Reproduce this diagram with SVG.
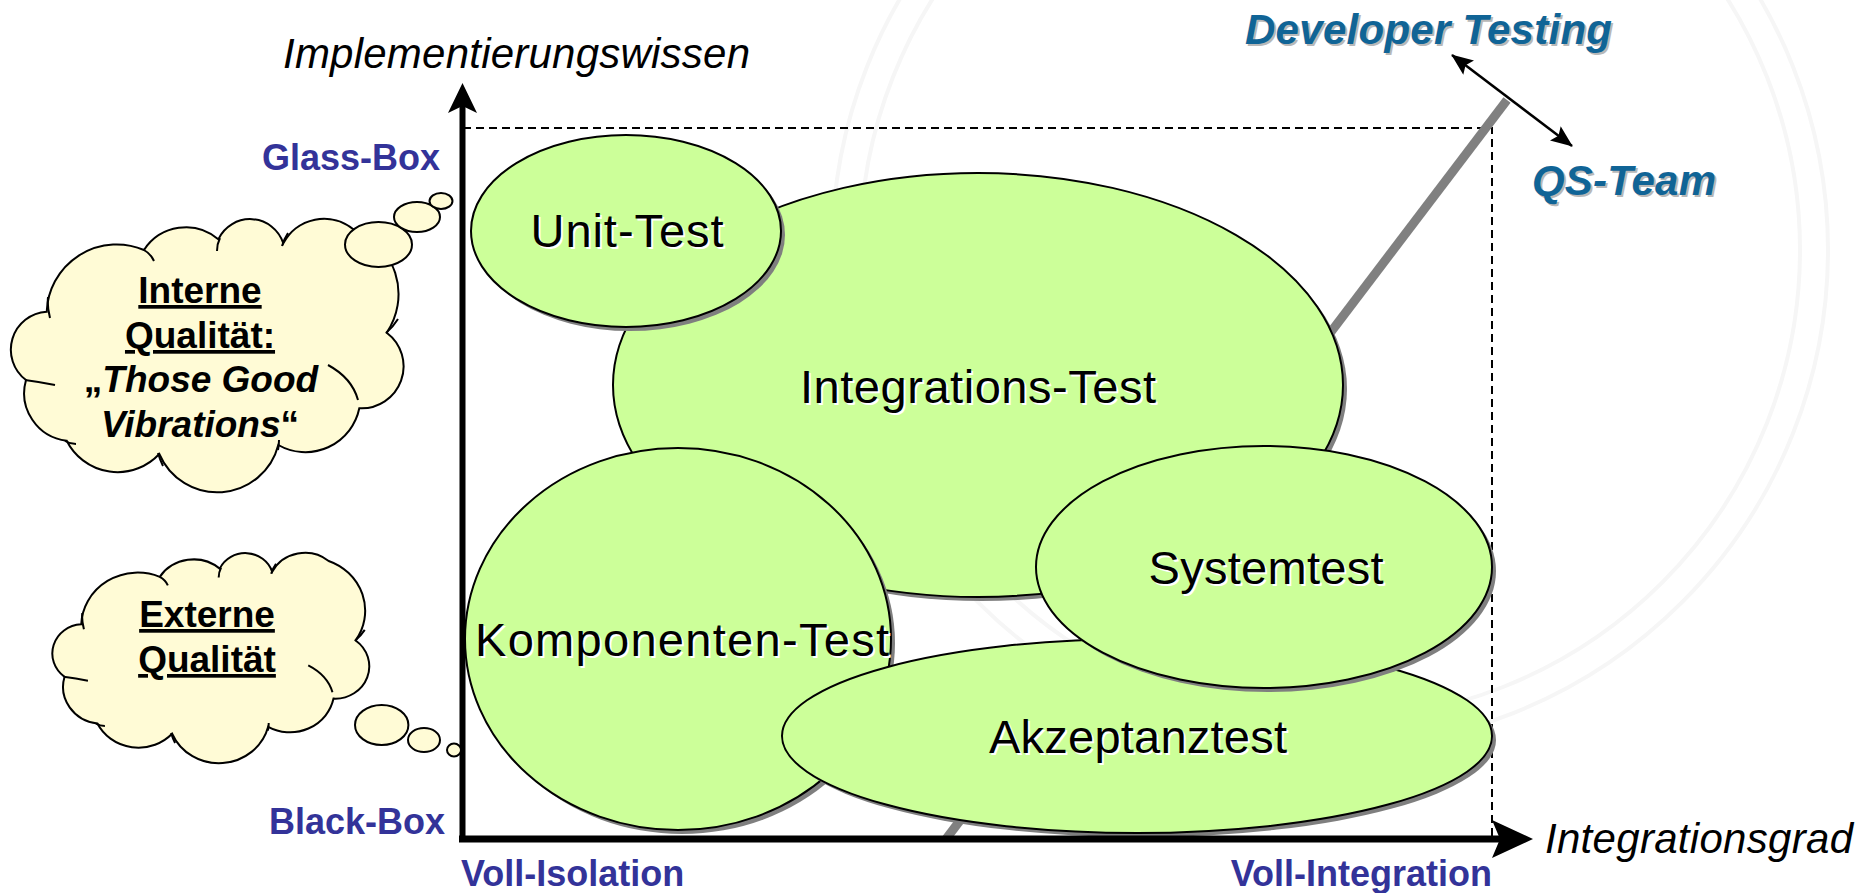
<svg xmlns="http://www.w3.org/2000/svg" width="1872" height="893" viewBox="0 0 1872 893">
<defs>
<style>
.el{fill:#ccff99;stroke:#000;stroke-width:2}
.sh{fill:#7f7f7f}
.cl{fill:#fffbd6;stroke:#000;stroke-width:2;vector-effect:non-scaling-stroke}
.frag{fill:none;stroke:#000;stroke-width:2;vector-effect:non-scaling-stroke}
.bub{fill:#fffbd6;stroke:#000;stroke-width:2}
.lbl{font-family:"Liberation Sans",Arial,sans-serif;font-size:47px;text-anchor:middle;fill:#000}
.lblsh{font-family:"Liberation Sans",Arial,sans-serif;font-size:47px;text-anchor:middle;fill:#fff}
.ax{font-family:"Liberation Sans",Arial,sans-serif;font-size:36px;font-weight:bold;fill:#333399}
.it{font-family:"Liberation Sans",Arial,sans-serif;font-size:42px;font-style:italic;fill:#000}
.team{font-family:"Liberation Sans",Arial,sans-serif;font-size:42px;font-weight:bold;font-style:italic;fill:#106496}
.teamsh{font-family:"Liberation Sans",Arial,sans-serif;font-size:42px;font-weight:bold;font-style:italic;fill:#b8b8b8}
.ct{font-family:"Liberation Sans",Arial,sans-serif;font-size:37px;font-weight:bold;text-anchor:middle;fill:#000}
.dash{stroke:#000;stroke-width:2;stroke-dasharray:8 5;fill:none}
</style>
<marker id="ah" markerUnits="userSpaceOnUse" markerWidth="22" markerHeight="18" viewBox="0 0 22 18" refX="21" refY="9" orient="auto-start-reverse">
<path d="M0 0 L22 9 L0 18 L4 9 Z" fill="#000"/>
</marker>
<g id="cloudbody">
<path class="cl" d="M 46.7 311.7 A 70 70 0 0 1 144 250 A 50 50 0 0 1 218.3 239.3 A 35 35 0 0 1 283.3 243.3 A 46 46 0 0 1 353.3 229.3 A 69 69 0 0 1 386.7 332.7 A 42 42 0 0 1 359.3 408.3 A 55 55 0 0 1 278.3 445 A 63 63 0 0 1 159.3 454 A 57 57 0 0 1 66.7 440.7 A 48 48 0 0 1 26 380 A 38 38 0 0 1 46.7 311.7 Z"/>
<path class="frag" d="M 50 318 Q 47 306 48 297 M 144 250 Q 151 254 154 261 M 217 251 Q 217 244 220 238 M 282 246 Q 284 239 288 233 M 386 333 Q 393 327 398 319 M 328 365 Q 352 378 358 400 M 279 440 Q 279 445 278 450 M 158 453 Q 160 460 163 466 M 65 441 Q 70 444 76 444 M 25 380 Q 40 382 55 385"/>
</g>
</defs>

<rect width="1872" height="893" fill="#ffffff"/>

<g id="watermark" fill="none" stroke="#f6f6f6" stroke-width="4">
<circle cx="1330" cy="250" r="470"/>
<circle cx="1330" cy="250" r="498"/>
</g>

<g id="guides">
<path class="dash" d="M 463 128 H 1492 V 839"/>
<line x1="1507" y1="100" x2="946" y2="839" stroke="#808080" stroke-width="9"/>
</g>

<g id="node-integrations">
<ellipse class="sh" cx="982" cy="389" rx="365" ry="212"/>
<ellipse class="el" cx="978" cy="385" rx="365" ry="212"/>
<text class="lblsh" x="980" y="405" textLength="356">Integrations-Test</text>
<text class="lbl" x="978" y="403" textLength="356">Integrations-Test</text>
</g>

<g id="node-unit">
<ellipse class="sh" cx="630" cy="235" rx="155" ry="96"/>
<ellipse class="el" cx="626" cy="231" rx="155" ry="96"/>
<text class="lblsh" x="629" y="249" textLength="193">Unit-Test</text>
<text class="lbl" x="627" y="247" textLength="193">Unit-Test</text>
</g>

<g id="node-komponenten">
<ellipse class="sh" cx="682" cy="643" rx="213" ry="191"/>
<ellipse class="el" cx="678" cy="639" rx="213" ry="191"/>
<text class="lblsh" x="684" y="658" textLength="414">Komponenten-Test</text>
<text class="lbl" x="682" y="656" textLength="414">Komponenten-Test</text>
</g>

<g id="node-akzeptanz">
<ellipse class="sh" cx="1141" cy="740" rx="355" ry="97"/>
<ellipse class="el" cx="1137" cy="736" rx="355" ry="97"/>
<text class="lblsh" x="1140" y="755" textLength="298">Akzeptanztest</text>
<text class="lbl" x="1138" y="753" textLength="298">Akzeptanztest</text>
</g>

<g id="node-system">
<ellipse class="sh" cx="1268" cy="571" rx="228" ry="121"/>
<ellipse class="el" cx="1264" cy="567" rx="228" ry="121"/>
<text class="lblsh" x="1268" y="586" textLength="235">Systemtest</text>
<text class="lbl" x="1266" y="584" textLength="235">Systemtest</text>
</g>

<g id="axes">
<line x1="462.5" y1="842" x2="462.5" y2="104" stroke="#000" stroke-width="6"/>
<polygon points="462.5,83 477,113 462.5,106 448,113" fill="#000"/>
<line x1="459" y1="839" x2="1502" y2="839" stroke="#000" stroke-width="7"/>
<polygon points="1533,839 1492,820 1500,839 1492,858" fill="#000"/>
<text class="it" x="283" y="68" textLength="467">Implementierungswissen</text>
<text class="it" x="1545" y="853" textLength="308">Integrationsgrad</text>
<text class="ax" x="440" y="170" text-anchor="end">Glass-Box</text>
<text class="ax" x="445" y="834" text-anchor="end">Black-Box</text>
<text class="ax" x="461" y="886">Voll-Isolation</text>
<text class="ax" x="1492" y="886" text-anchor="end">Voll-Integration</text>
</g>

<g id="node-interne">
<use href="#cloudbody"/>
<ellipse class="bub" cx="378.5" cy="244.5" rx="33.5" ry="22.5"/>
<ellipse class="bub" cx="417" cy="217" rx="23" ry="15"/>
<ellipse class="bub" cx="441" cy="201" rx="11.5" ry="8"/>
<text class="ct" x="200" y="303" text-decoration="underline">Interne</text>
<text class="ct" x="200" y="348" text-decoration="underline">Qualität:</text>
<text class="ct" x="201" y="392">„<tspan font-style="italic">Those Good</tspan></text>
<text class="ct" x="200" y="437"><tspan font-style="italic">Vibrations</tspan>“</text>
</g>

<g id="node-externe">
<use href="#cloudbody" transform="matrix(0.807 0 0 0.769 43.56 384.6)"/>
<ellipse class="bub" cx="381.7" cy="725" rx="26.7" ry="20"/>
<ellipse class="bub" cx="424" cy="740" rx="16" ry="12"/>
<ellipse class="bub" cx="454" cy="750" rx="7" ry="6.5"/>
<text class="ct" x="207" y="627" text-decoration="underline">Externe</text>
<text class="ct" x="207" y="672" text-decoration="underline">Qualität</text>
</g>

<g id="node-developer">
<text class="teamsh" x="1247" y="46" textLength="367">Developer Testing</text>
<text class="team" x="1245" y="44" textLength="367">Developer Testing</text>
</g>

<g id="node-qsteam">
<text class="teamsh" x="1534" y="197" textLength="184">QS-Team</text>
<text class="team" x="1532" y="195" textLength="184">QS-Team</text>
</g>

<g id="connectors">
<line x1="1452" y1="55" x2="1572" y2="146" stroke="#000" stroke-width="2.5" marker-start="url(#ah)" marker-end="url(#ah)"/>
</g>
</svg>
